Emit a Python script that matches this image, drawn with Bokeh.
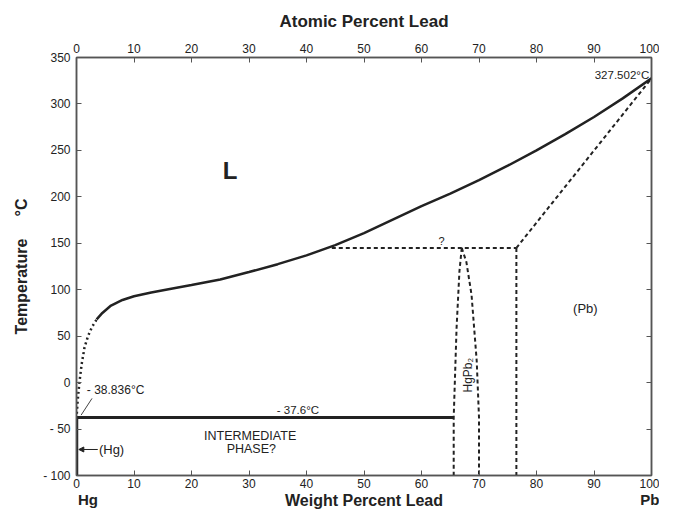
from bokeh.plotting import figure
from bokeh.models import Range1d, LinearAxis, FixedTicker, Label, Arrow, NormalHead
from bokeh.embed import file_html
from bokeh.resources import INLINE

# ---- data ----
wt_ticks = [0, 10, 20, 30, 40, 50, 60, 70, 80, 90, 100]
at_ticks = [0, 10, 20, 30, 40, 50, 60, 70, 80, 90, 100]
t_ticks = [-100, -50, 0, 50, 100, 150, 200, 250, 300, 350]
t_tick_labels = {-100: "- 100", -50: "- 50"}
end_ticks = [2, 100]
end_labels = {2: "Hg", 100: "Pb"}

# liquidus, dotted part near Hg
liq_dot_x = [0.0, 0.2, 0.5, 0.9, 1.4, 2.0, 2.7, 3.5]
liq_dot_t = [-38.836, -20, 0, 20, 38, 50, 60, 68]
# liquidus, solid part
liq_x = [3.5, 4.5, 6, 8, 10, 13, 16, 20, 25, 30, 35, 40, 45, 50, 55, 60, 65,
         70, 75, 80, 85, 90, 95, 100]
liq_t = [68, 75, 83, 89, 93, 97, 100.5, 105, 111, 119, 127.5, 137, 148, 161,
         175.5, 190, 203.5, 218, 233.5, 250, 267.5, 286, 306, 327.502]
# peritectic line
perit_x = [44.4, 76.5]
perit_t = [145, 145]
# (Pb) solidus
pb_sol_x = [76.5, 100.0]
pb_sol_t = [145, 327.502]
# (Pb) solvus
pb_solv_x = [76.5, 76.5]
pb_solv_t = [145, -100]
# HgPb2 phase boundaries
hgpb2_left_x = [67.0, 66.6, 66.1, 65.6, 65.6]
hgpb2_left_t = [145, 120, 59, -37.6, -100]
hgpb2_right_x = [67.0, 67.8, 68.7, 69.6, 70.0, 70.0]
hgpb2_right_t = [145, 130, 94.7, 23.5, -37.6, -100]
# horizontal at -37.6
eut_x = [0.0, 65.6]
eut_t = [-37.6, -37.6]
# (Hg) solid
hg_x = [0.0, 0.0]
hg_t = [-38.836, -100]

FONT = "Liberation Sans"
TXT = "#222222"
NB = "\u00a0"

p = figure(width=659, height=511, x_range=Range1d(0, 100), y_range=Range1d(-100, 350),
           output_backend="svg", toolbar_location=None,
           min_border_left=76, min_border_right=8, min_border_top=57, min_border_bottom=34)
p.xgrid.visible = False
p.ygrid.visible = False
p.outline_line_color = "#555555"
p.outline_line_width = 1.5
p.background_fill_color = "white"
p.border_fill_color = "white"

def style_axis(ax):
    ax.major_tick_in = 5
    ax.major_tick_out = 0
    ax.minor_tick_line_color = None
    ax.axis_line_color = "#555555"
    ax.axis_line_width = 1.5
    ax.major_tick_line_color = "#555555"
    ax.major_label_text_font = FONT
    ax.major_label_text_font_size = "12px"
    ax.major_label_text_color = TXT
    ax.axis_label_text_font = FONT
    ax.axis_label_text_font_size = "17px"
    ax.axis_label_text_font_style = "bold"
    ax.axis_label_text_color = TXT

# bottom axis
bx = p.xaxis[0]
bx.ticker = FixedTicker(ticks=wt_ticks)
style_axis(bx)
bx.major_label_standoff = 3

# second bottom axis: end-member names and the axis title
b2 = LinearAxis(ticker=FixedTicker(ticks=end_ticks), axis_label="Weight Percent Lead")
style_axis(b2)
b2.axis_line_color = None
b2.major_tick_line_color = None
b2.major_tick_in = 0
b2.major_label_overrides = end_labels
b2.major_label_text_font_size = "15px"
b2.major_label_text_font_style = "bold"
b2.major_label_standoff = 0
b2.axis_label_text_font_size = "16px"
b2.axis_label_standoff = -19
p.add_layout(b2, "below")

# left axis
ly = p.yaxis[0]
ly.ticker = FixedTicker(ticks=t_ticks)
ly.major_label_overrides = t_tick_labels
style_axis(ly)
ly.major_label_standoff = 6
ly.axis_label = "Temperature" + NB * 5 + "\u00b0C"
ly.axis_label_text_font_size = "16px"
ly.axis_label_standoff = 10

# top axis (atomic percent)
p.extra_x_ranges = {"at": Range1d(0, 100)}
top = LinearAxis(x_range_name="at", ticker=FixedTicker(ticks=at_ticks),
                 axis_label="Atomic Percent Lead")
style_axis(top)
top.major_label_standoff = 5
top.axis_label_standoff = 10
p.add_layout(top, "above")

# right axis (ticks only)
right = LinearAxis(ticker=FixedTicker(ticks=t_ticks))
style_axis(right)
right.major_label_overrides = {t: "" for t in t_ticks}
right.major_label_standoff = 0
p.add_layout(right, "right")

# ---- curves ----
p.line(liq_dot_x, liq_dot_t, line_color="#222222", line_width=2.5, line_dash="2 3")
p.line(liq_x, liq_t, line_color="#222222", line_width=2.5)
dash = "4 3"
for xs, ts in [(perit_x, perit_t), (pb_sol_x, pb_sol_t), (pb_solv_x, pb_solv_t),
               (hgpb2_left_x, hgpb2_left_t), (hgpb2_right_x, hgpb2_right_t)]:
    p.line(xs, ts, line_color="#222222", line_width=2, line_dash=dash)
p.line(eut_x, eut_t, line_color="#222222", line_width=3)
p.line(hg_x, hg_t, line_color="#222222", line_width=3.5)

# leader line for Hg melting point
p.line([0.8, 2.7], [-35, -17], line_color="#444444", line_width=1)

# ---- annotations ----
def lab(x, y, text, size="10px", align="left", baseline="middle", style="normal", angle=0):
    p.add_layout(Label(x=x, y=y, text=text, text_font=FONT, text_font_size=size,
                       text_align=align, text_baseline=baseline, text_font_style=style,
                       text_color=TXT, angle=angle, angle_units="deg"))

lab(26.7, 228, "L", size="24px", align="center", style="bold")
lab(99.6, 331, "327.502\u00b0C", size="11.5px", align="right")
lab(63.5, 152, "?", size="11px", align="center")
lab(88.5, 80, "(Pb)", size="13px", align="center")
lab(68.0, 8, "HgPb\u2082", size="12px", align="center", angle=90)
lab(1.8, -8, "- 38.836\u00b0C", size="12px")
lab(38.5, -30, "- 37.6\u00b0C", size="11.5px", align="center")
lab(30.2, -57, "INTERMEDIATE", size="12.5px", align="center")
lab(30.4, -71, "PHASE?", size="12.5px", align="center")
lab(3.9, -72, "(Hg)", size="13px")
p.add_layout(Arrow(end=NormalHead(size=5, fill_color="#222222", line_color="#222222"),
                   x_start=3.7, y_start=-72, x_end=0.4, y_end=-72,
                   line_color="#222222", line_width=1))

open("out.html", "w").write(file_html(p, INLINE))
